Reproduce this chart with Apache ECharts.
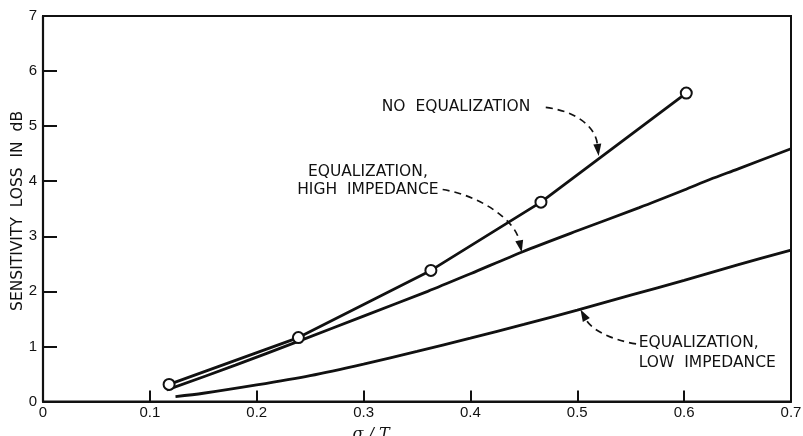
<!DOCTYPE html>
<html>
<head>
<meta charset="utf-8">
<script src="https://cdn.jsdelivr.net/npm/echarts@6/dist/echarts.min.js"></script>
<style>
html,body{margin:0;padding:0;background:#fff;}
#c{width:803px;height:436px;}
</style>
</head>
<body>
<div id="c"></div>
<script>
// ---- data ----
const noEqX = [0.118, 0.239, 0.363, 0.466, 0.602];
const noEqY = [0.31, 1.16, 2.38, 3.62, 5.60];

const highX = [0.116, 0.18, 0.24, 0.30, 0.36, 0.40, 0.449, 0.50, 0.558, 0.60, 0.624, 0.65, 0.70];
const highY = [0.21, 0.66, 1.10, 1.55, 2.00, 2.32, 2.72, 3.10, 3.52, 3.84, 4.03, 4.22, 4.59];

const lowX = [0.124, 0.15, 0.20, 0.25, 0.30, 0.35, 0.40, 0.45, 0.50, 0.55, 0.60, 0.65, 0.70];
const lowY = [0.09, 0.15, 0.30, 0.47, 0.68, 0.91, 1.15, 1.40, 1.66, 1.93, 2.20, 2.48, 2.75];

const xTicks = [0, 0.1, 0.2, 0.3, 0.4, 0.5, 0.6, 0.7];
const yTicks = [0, 1, 2, 3, 4, 5, 6, 7];

const yTitle = 'SENSITIVITY  LOSS  IN  dB';
const xTitle = 'σ / T';

// annotation texts and anchor points (data coordinates)
const yTitleAt = [-0.0234, 3.46];
const noEqLabel = 'NO  EQUALIZATION';
const highLabel = ['EQUALIZATION,', 'HIGH  IMPEDANCE'];
const lowLabel = ['EQUALIZATION,', 'LOW  IMPEDANCE'];

const noEqTextAt = [0.317, 5.34];
const noEqArrow = [[0.4705, 5.34], [0.5005, 5.27], [0.517, 4.97], [0.520, 4.46]];
const highTextAt = [[0.304, 4.17], [0.304, 3.84]];
const highArrow = [[0.374, 3.85], [0.409, 3.74], [0.4415, 3.30], [0.448, 2.71]];
const lowTextAt = [[0.5575, 1.065], [0.5575, 0.705]];
const lowArrow = [[0.555, 1.045], [0.532, 1.12], [0.5136, 1.30], [0.503, 1.67]];

const zip = (xs, ys) => xs.map((x, i) => [x, ys[i]]);

const FONT = '"Liberation Sans", Arial, Helvetica, sans-serif';
const chart = echarts.init(document.getElementById('c'), null, {renderer: 'canvas'});

const option = {
  animation: false,
  backgroundColor: '#fff',
  grid: {left: 43, right: 12, top: 16, bottom: 34.5, containLabel: false, outerBoundsMode: 'none',
    show: true, borderColor: '#111', borderWidth: 2, backgroundColor: 'transparent'},
  xAxis: {
    type: 'value', min: 0, max: 0.7, interval: 0.1,
    axisLine: {show: true, lineStyle: {color: '#111', width: 2.2}},
    axisTick: {show: true, inside: true, length: 11, lineStyle: {color: '#111', width: 2}},
    axisLabel: {color: '#111', fontSize: 15, fontFamily: FONT, margin: 4,
      formatter: v => { const t = xTicks.find(k => Math.abs(k - v) < 1e-9); return t === 0 ? '0' : String(t); }},
    splitLine: {show: false},
    name: xTitle, nameLocation: 'middle', nameGap: 25,
    nameTextStyle: {color: '#111', fontSize: 16, fontFamily: '"DejaVu Serif", serif', fontStyle: 'italic', padding: [0, 92, 0, 0]}
  },
  yAxis: {
    type: 'value', min: 0, max: 7, interval: 1,
    axisLine: {show: true, lineStyle: {color: '#111', width: 2.2}},
    axisTick: {show: true, inside: true, length: 14, lineStyle: {color: '#111', width: 2}},
    axisLabel: {color: '#111', fontSize: 15, fontFamily: FONT, margin: 6,
      formatter: v => String(yTicks.find(k => Math.abs(k - v) < 1e-9))},
    splitLine: {show: false}
  },
  series: [
    {type: 'line', name: 'high', data: zip(highX, highY), smooth: 0.3, showSymbol: false,
      lineStyle: {color: '#111', width: 2.8}, z: 3},
    {type: 'line', name: 'low', data: zip(lowX, lowY), smooth: 0.3, showSymbol: false,
      lineStyle: {color: '#111', width: 2.8}, z: 3},
    {type: 'line', name: 'noeq', data: zip(noEqX, noEqY), smooth: false,
      symbol: 'circle', symbolSize: 11, showSymbol: true,
      itemStyle: {color: '#fff', borderColor: '#111', borderWidth: 2},
      lineStyle: {color: '#111', width: 2.8}, z: 4}
  ]
};
chart.setOption(option);

function px(p) { return chart.convertToPixel({gridIndex: 0}, p); }

function arrowGraphics(pts) {
  const [p0, c1, c2, p3] = pts.map(px);
  const ang = Math.atan2(p3[1] - c2[1], p3[0] - c2[0]);
  const L = 12, W = 4;
  const bx = p3[0] - L * Math.cos(ang), by = p3[1] - L * Math.sin(ang);
  const nx = -Math.sin(ang), ny = Math.cos(ang);
  return [
    {type: 'bezierCurve', silent: true,
      shape: {x1: p0[0], y1: p0[1], cpx1: c1[0], cpy1: c1[1], cpx2: c2[0], cpy2: c2[1], x2: bx, y2: by},
      style: {stroke: '#111', lineWidth: 1.7, lineDash: [7, 5], fill: null}},
    {type: 'polygon', silent: true,
      shape: {points: [[p3[0], p3[1]], [bx + nx * W, by + ny * W], [bx - nx * W, by - ny * W]]},
      style: {fill: '#111'}}
  ];
}

function textG(at, txt, align, rot) {
  const p = px(at);
  return {type: 'text', silent: true, x: p[0], y: p[1], rotation: rot || 0,
    style: {text: txt, fill: '#111', font: '15.5px "DejaVu Sans", sans-serif', align: align, verticalAlign: 'middle'}};
}

const g = [];
g.push(textG(yTitleAt, yTitle, 'center', Math.PI / 2));
g.push(textG(noEqTextAt, noEqLabel, 'left'));
g.push(...arrowGraphics(noEqArrow));
g.push(textG(highTextAt[0], highLabel[0], 'center'));
g.push(textG(highTextAt[1], highLabel[1], 'center'));
g.push(...arrowGraphics(highArrow));
g.push(textG(lowTextAt[0], lowLabel[0], 'left'));
g.push(textG(lowTextAt[1], lowLabel[1], 'left'));
g.push(...arrowGraphics(lowArrow));

chart.setOption({graphic: g});
</script>
</body>
</html>
